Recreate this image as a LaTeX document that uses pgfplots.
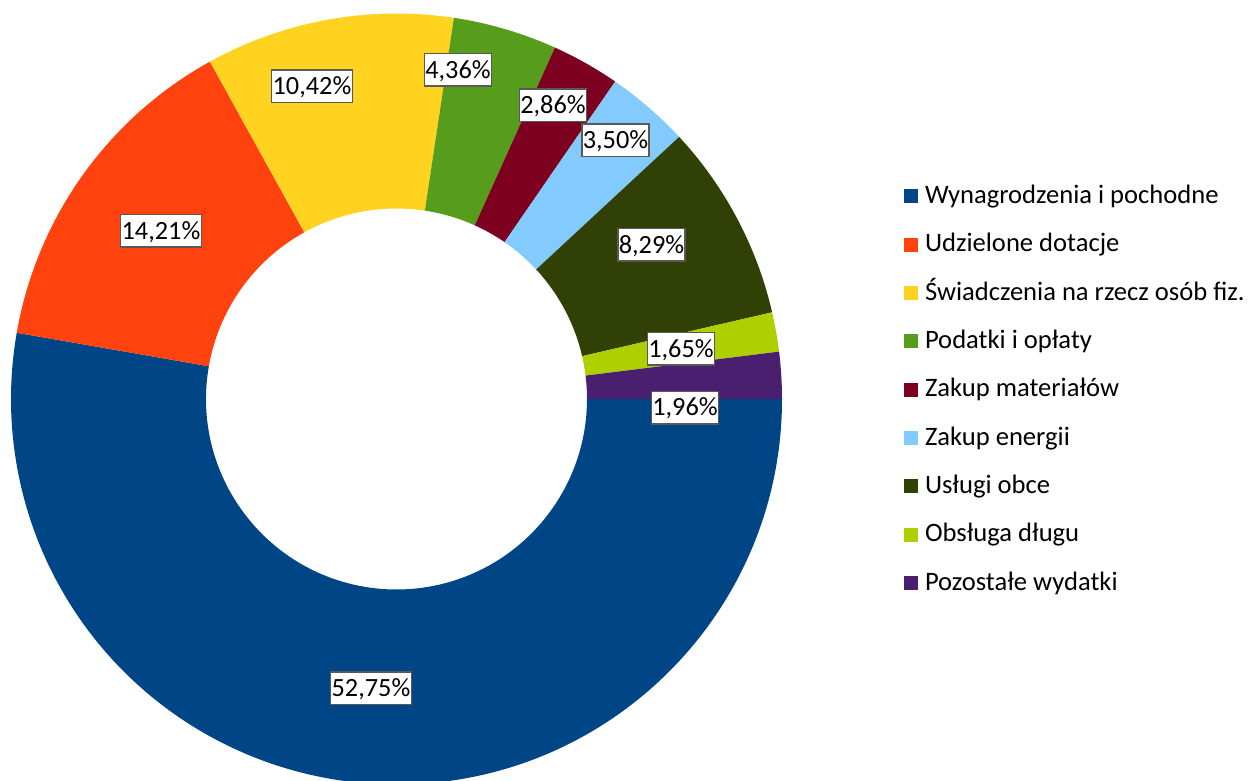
\documentclass[border=0pt]{standalone}
\usepackage{fontspec}
\setmainfont{Carlito}
\usepackage{pgfplots}
\usepackage{pgfplotstable}
\pgfplotsset{compat=1.18}
\definecolor{c0}{HTML}{004586}
\definecolor{c1}{HTML}{FF420E}
\definecolor{c2}{HTML}{FFD320}
\definecolor{c3}{HTML}{579D1C}
\definecolor{c4}{HTML}{7E0021}
\definecolor{c5}{HTML}{83CAFF}
\definecolor{c6}{HTML}{314004}
\definecolor{c7}{HTML}{AECF00}
\definecolor{c8}{HTML}{4B1F6F}
\definecolor{boxgray}{HTML}{595959}
% values (percent) and label positions (axis units)
\pgfplotstableread{
val    lx     ly
52.75  371    92
14.21  161    549
10.42  312    693.5
4.36   458    710
2.86   553    674.5
3.50   615.5  639.5
8.29   651.5  535
1.65   681    431
1.96   685    372.5
}\data
\begin{document}
\begin{tikzpicture}
\gdef\cum{0}
\foreach \i in {0,...,8}{%
  \pgfplotstablegetelem{\i}{val}\of\data
  \pgfmathsetmacro\sa{-3.6*\cum}%
  \pgfmathsetmacro\newcum{\cum+\pgfplotsretval}%
  \pgfmathsetmacro\ea{-3.6*\newcum}%
  \expandafter\xdef\csname st\i\endcsname{\sa}%
  \expandafter\xdef\csname en\i\endcsname{\ea}%
  \xdef\cum{\newcum}%
}
\begin{axis}[
  x=1pt, y=1pt,
  xmin=0, xmax=1249, ymin=0, ymax=780,
  hide axis,
  clip=true,
  legend cell align=left,
  legend image code/.code={\fill[#1,draw=none] (0pt,-8.5pt) rectangle (14pt,5.5pt);},
  legend style={
    at={(axis cs:904,593.6)}, anchor=north west,
    draw=none, fill=none, inner sep=0pt, outer sep=0pt,
    row sep=31.4pt, column sep=7pt,
    font=\fontsize{26.6}{31}\selectfont,
    nodes={inner sep=0pt, text height=16.9pt, text depth=0pt},
  },
]
\pgfplotsinvokeforeach{0,...,8}{%
  \fill[c#1] ([shift={({\csname st#1\endcsname}:385.5pt)}]axis cs:396.5,381)
    arc[start angle={\csname st#1\endcsname}, end angle={\csname en#1\endcsname}, radius=385.5pt]
    -- ([shift={({\csname en#1\endcsname}:190.5pt)}]axis cs:396.5,381)
    arc[start angle={\csname en#1\endcsname}, end angle={\csname st#1\endcsname}, radius=190.5pt]
    -- cycle;
}
\addplot[forget plot, only marks, mark=*, mark size=0pt,
  mark options={draw=none, fill=none},
  point meta=explicit,
  nodes near coords={\pgfmathprintnumber[fixed, fixed zerofill, precision=2, use comma, assume math mode=true]{\pgfplotspointmeta}\%},
  nodes near coords style={anchor=center, fill=white, draw=boxgray, line width=1.5pt,
    inner xsep=1pt, inner ysep=0pt, text height=16.5pt, text depth=0pt,
    minimum height=32.5pt, font=\fontsize{26.3}{31}\selectfont, text=black},
] table[x=lx, y=ly, meta=val] {\data};
\addlegendimage{fill=c0}\addlegendentry{Wynagrodzenia i pochodne}
\addlegendimage{fill=c1}\addlegendentry{Udzielone dotacje}
\addlegendimage{fill=c2}\addlegendentry{Świadczenia na rzecz osób fiz.}
\addlegendimage{fill=c3}\addlegendentry{Podatki i opłaty}
\addlegendimage{fill=c4}\addlegendentry{Zakup materiałów}
\addlegendimage{fill=c5}\addlegendentry{Zakup energii}
\addlegendimage{fill=c6}\addlegendentry{Usługi obce}
\addlegendimage{fill=c7}\addlegendentry{Obsługa długu}
\addlegendimage{fill=c8}\addlegendentry{Pozostałe wydatki}
\end{axis}
\pgfresetboundingbox
\path (current axis.south west) rectangle (current axis.north east);
\end{tikzpicture}
\end{document}
